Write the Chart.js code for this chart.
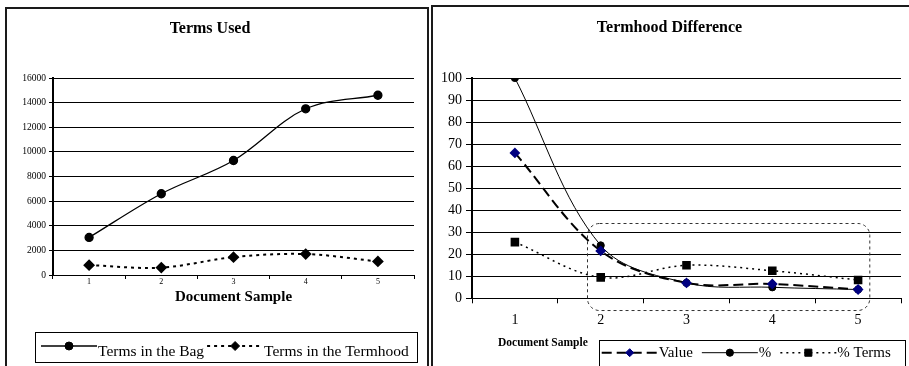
<!DOCTYPE html>
<html>
<head>
<meta charset="utf-8">
<script src="https://cdn.jsdelivr.net/npm/chart.js@4.4.1/dist/chart.umd.min.js"></script>
<style>
body { margin: 0; background: #fff; overflow: hidden; width: 909px; height: 366px; position: relative; }
.panel { position: absolute; border: 2px solid #1a1a1a; box-sizing: border-box; }
#panelA { left: 5px; top: 7px; width: 424px; height: 400px; }
#panelB { left: 431px; top: 5px; width: 500px; height: 400px; }
canvas { position: absolute; top: 0; }
#termsUsed { left: 0; }
#termhoodDiff { left: 430px; }
</style>
</head>
<body>
<div class="panel" id="panelA"></div>
<div class="panel" id="panelB"></div>
<canvas id="termsUsed" width="430" height="366"></canvas>
<canvas id="termhoodDiff" width="479" height="366"></canvas>
<script>
// document samples (x axis of both charts)
var SAMPLES = ['1', '2', '3', '4', '5'];

// Terms Used
var TERMS_BAG = [3050, 6600, 9300, 13500, 14600];
var TERMS_TERMHOOD = [800, 600, 1450, 1700, 1100];
var USED_MAX = 16000, USED_STEP = 2000;

// Termhood Difference
var DIFF_VALUE = [66, 21.5, 7, 6.5, 4];
var DIFF_PCT = [100, 24, 7, 5, 4];
var DIFF_PCT_TERMS = [25.5, 9.5, 15, 12.5, 8.3];
var DIFF_MAX = 100, DIFF_STEP = 10;

var SERIF = '"Liberation Serif", "Times New Roman", serif';

// only the last vertical grid line (right edge of the plot) is drawn
function edgeOnly(c){
    return c.index === SAMPLES.length ? '#808080' : 'rgba(0,0,0,0)';
}

// legend in a framed box, each entry = line sample + marker + label
var boxLegend = {
    id: 'boxLegend',
    afterDraw: function(chart, args, opts){
        if(!opts || !opts.box) return;
        var ctx = chart.ctx;
        var b = opts.box;
        ctx.save();
        ctx.lineWidth = 1;
        ctx.strokeStyle = '#000';
        ctx.setLineDash([]);
        ctx.strokeRect(b[0] + 0.5, b[1] + 0.5, b[2], b[3]);
        ctx.font = opts.font;
        ctx.fillStyle = '#000';
        ctx.textBaseline = 'alphabetic';
        ctx.textAlign = 'left';
        var x = b[0] + opts.padLeft;
        var ly = b[1] + opts.lineY, ty = b[1] + opts.textY;
        chart.data.datasets.forEach(function(ds){
            ctx.save();
            ctx.strokeStyle = ds.borderColor;
            ctx.lineWidth = ds.borderWidth;
            ctx.setLineDash(ds.borderDash || []);
            ctx.beginPath();
            ctx.moveTo(x, ly);
            ctx.lineTo(x + opts.sample, ly);
            ctx.stroke();
            ctx.setLineDash([]);
            ctx.fillStyle = ds.pointBackgroundColor;
            ctx.strokeStyle = ds.pointBorderColor;
            ctx.lineWidth = 1;
            Chart.helpers.drawPoint(ctx, {pointStyle: ds.pointStyle, radius: ds.pointRadius, rotation: 0, borderWidth: 1}, x + opts.sample / 2, ly);
            ctx.restore();
            x += opts.sample + 1;
            ctx.fillText(ds.label, x, ty);
            x += ctx.measureText(ds.label).width + opts.gap;
        });
        ctx.restore();
    }
};

// dashed rounded frame given in data units
var dashedFrame = {
    id: 'dashedFrame',
    afterDatasetsDraw: function(chart, args, opts){
        if(!opts || !opts.from) return;
        var xs = chart.scales.x, ys = chart.scales.y;
        var x0 = xs.getPixelForValue(opts.from[0]), y0 = ys.getPixelForValue(opts.from[1]);
        var x1 = xs.getPixelForValue(opts.to[0]), y1 = ys.getPixelForValue(opts.to[1]);
        var ctx = chart.ctx;
        ctx.save();
        ctx.strokeStyle = '#333';
        ctx.lineWidth = 1;
        ctx.setLineDash([3, 3]);
        ctx.beginPath();
        ctx.roundRect(Math.round(x0) + 0.5, Math.round(y0) + 0.5, x1 - x0, y1 - y0, opts.radius);
        ctx.stroke();
        ctx.restore();
    }
};

// axis caption placed off-center under the category labels
var sideCaption = {
    id: 'sideCaption',
    afterDraw: function(chart, args, opts){
        if(!opts || !opts.text) return;
        var ctx = chart.ctx;
        ctx.save();
        ctx.font = opts.font;
        ctx.fillStyle = '#000';
        ctx.textAlign = 'left';
        ctx.textBaseline = 'middle';
        ctx.fillText(opts.text, opts.x, opts.y);
        ctx.restore();
    }
};

new Chart(document.getElementById('termsUsed'), {
    type: 'line',
    data: {
        labels: SAMPLES,
        datasets: [
            {label: 'Terms in the Bag', data: TERMS_BAG, borderColor: '#000', borderWidth: 1.3,
             pointStyle: 'circle', pointRadius: 4, pointBackgroundColor: '#000', pointBorderColor: '#000', tension: 0.35},
            {label: 'Terms in the Termhood', data: TERMS_TERMHOOD, borderColor: '#000', borderWidth: 2, borderDash: [3, 4],
             pointStyle: 'rectRot', pointRadius: 4.5, pointBackgroundColor: '#000', pointBorderColor: '#000', tension: 0.35}
        ]
    },
    options: {
        responsive: false, animation: false, devicePixelRatio: 1,
        layout: {padding: {left: 6, right: 16, top: 0, bottom: 59.5}},
        plugins: {
            legend: {display: false}, tooltip: {enabled: false},
            title: {display: true, text: 'Terms Used', color: '#000',
                    font: {family: SERIF, size: 16, weight: 'bold'}, padding: {top: 19.4, bottom: 39.4}},
            boxLegend: {box: [35, 332, 382, 30], padLeft: 6, sample: 56, gap: 3, lineY: 14, textY: 23.5, font: '15.5px ' + SERIF}
        },
        scales: {
            x: {
                offset: true,
                grid: {offset: true, color: edgeOnly, tickColor: '#000', tickLength: 4},
                border: {color: '#000', width: 1},
                ticks: {color: '#000', font: {family: SERIF, size: 8}, padding: -2},
                title: {display: true, text: 'Document Sample', color: '#000',
                        font: {family: SERIF, size: 15, weight: 'bold'}, padding: 0},
                afterFit: function(s){ s.height = 31.5; }
            },
            y: {
                min: 0, max: USED_MAX,
                ticks: {stepSize: USED_STEP, color: '#000', font: {family: SERIF, size: 9.5}, padding: 3,
                        callback: function(v){ return String(v); }},
                grid: {color: '#000', tickColor: '#000', tickLength: 4},
                border: {color: '#000', width: 2},
                afterFit: function(s){ s.width = 47; }
            }
        }
    },
    plugins: [boxLegend]
});

new Chart(document.getElementById('termhoodDiff'), {
    type: 'line',
    data: {
        labels: SAMPLES,
        datasets: [
            {label: 'Value', data: DIFF_VALUE, borderColor: '#000', borderWidth: 2, borderDash: [10, 5],
             pointStyle: 'rectRot', pointRadius: 4, pointBackgroundColor: '#000080', pointBorderColor: '#000080', tension: 0.35},
            {label: '%', data: DIFF_PCT, borderColor: '#000', borderWidth: 1,
             pointStyle: 'circle', pointRadius: 3.6, pointBackgroundColor: '#000', pointBorderColor: '#000', tension: 0.35},
            {label: '% Terms', data: DIFF_PCT_TERMS, borderColor: '#000', borderWidth: 1.5, borderDash: [2, 4],
             pointStyle: 'rect', pointRadius: 5, pointBackgroundColor: '#000', pointBorderColor: '#000', tension: 0.35}
        ]
    },
    options: {
        responsive: false, animation: false, devicePixelRatio: 1,
        layout: {padding: {left: 8, right: 8, top: 0, bottom: 37.7}},
        plugins: {
            legend: {display: false}, tooltip: {enabled: false},
            title: {display: true, text: 'Termhood Difference', color: '#000',
                    font: {family: SERIF, size: 16, weight: 'bold'}, padding: {top: 18.4, bottom: 40.4}},
            boxLegend: {box: [169, 340, 306, 30], padLeft: 2.7, sample: 56, gap: 9, lineY: 12.7, textY: 16.7, font: '15px ' + SERIF},
            sideCaption: {text: 'Document Sample', x: 68, y: 343, font: 'bold 11.5px ' + SERIF},
            dashedFrame: {from: [0.84, 34.2], to: [4.13, -5.3], radius: 12}
        },
        scales: {
            x: {
                offset: true,
                grid: {offset: true, color: edgeOnly, tickColor: '#000', tickLength: 5},
                border: {color: '#000', width: 1},
                ticks: {color: '#000', font: {family: SERIF, size: 14}, padding: 8.3},
                afterFit: function(s){ s.height = 30; }
            },
            y: {
                min: 0, max: DIFF_MAX,
                ticks: {stepSize: DIFF_STEP, color: '#000', font: {family: SERIF, size: 14}, padding: 4},
                grid: {color: '#000', tickColor: '#000', tickLength: 6},
                border: {color: '#000', width: 2},
                afterFit: function(s){ s.width = 34; }
            }
        }
    },
    plugins: [boxLegend, dashedFrame, sideCaption]
});
</script>
</body>
</html>
